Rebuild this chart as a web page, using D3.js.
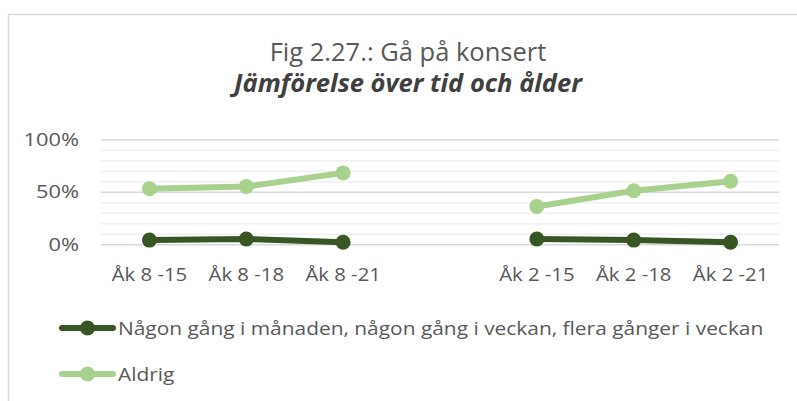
<!DOCTYPE html>
<html><head><meta charset="utf-8">
<script src="https://cdn.jsdelivr.net/npm/d3@7/dist/d3.min.js"></script>
<style>
body{margin:0;background:#fff}
svg{display:block}
text{font-family:"Open Sans",sans-serif}
</style>
</head><body>
<svg id="chart" width="797" height="401"></svg>
<script>
const categories = ["Åk 8 -15","Åk 8 -18","Åk 8 -21"," ","Åk 2 -15","Åk 2 -18","Åk 2 -21"];
const seriesNames = ["Någon gång i månaden, någon gång i veckan, flera gånger i veckan","Aldrig"];
const sometimesValues = [4,5,2,null,5,4,2];
const neverValues = [53,55,68,null,36,51,60];
const yTicks = [0,50,100];
const yMinorTicks = [10,20,30,40,60,70,80,90];
const titleText = "Fig 2.27.: Gå på konsert";
const subtitleText = "Jämförelse över tid och ålder";

const colors = ["#375623","#a9d18e"];
const series = [sometimesValues, neverValues];

const svg = d3.select("#chart");
const W = 797, H = 401;
const plotL = 101, plotR = 779, plotT = 139.3, plotB = 244.3;
const axisFont = 19;

// frame
svg.append("path").attr("d",`M8.5,${H} V14.5 H${W}`).attr("fill","none")
  .attr("stroke","#d9d9d9").attr("stroke-width",1.5);

// titles
svg.append("text").attr("x",408).attr("y",61).attr("text-anchor","middle")
  .attr("font-size",25.5).attr("fill","#595959")
  .text(titleText);
svg.append("text").attr("x",408).attr("y",92).attr("text-anchor","middle")
  .attr("font-size",25.5).attr("font-weight","bold").attr("font-style","italic").attr("fill","#404040")
  .text(subtitleText);

const x = d3.scaleBand().domain(categories).range([plotL,plotR]);
const y = d3.scaleLinear().domain([0,100]).range([plotB,plotT]);
const cx = d => x(d) + x.bandwidth()/2;

// minor gridlines
svg.append("g").attr("transform",`translate(${plotL},0)`)
  .call(d3.axisLeft(y).tickValues(yMinorTicks).tickSize(-(plotR-plotL)).tickFormat(""))
  .call(g=>g.select(".domain").remove())
  .call(g=>g.selectAll("line").attr("stroke","#f0f0f0").attr("stroke-width",1.5));
// major gridlines + labels
const ySx = 1.15;
svg.append("g").attr("transform",`translate(${plotL},0)`)
  .call(d3.axisLeft(y).tickValues(yTicks).tickSize(-(plotR-plotL)).tickFormat(d=>d+"%").tickPadding(22))
  .call(g=>g.select(".domain").remove())
  .call(g=>g.selectAll("line").attr("stroke","#d9d9d9").attr("stroke-width",1.5))
  .call(g=>g.selectAll("text").attr("font-size",axisFont).attr("fill","#595959").attr("font-family","Open Sans")
    .attr("x",-22/ySx).attr("transform",`scale(${ySx},1)`));

// x axis labels
const xSx = 1.07;
svg.append("g").attr("transform",`translate(0,${plotB})`)
  .call(d3.axisBottom(x).tickSize(0).tickPadding(23))
  .call(g=>g.select(".domain").remove())
  .call(g=>g.selectAll("text").attr("font-size",axisFont).attr("fill","#595959").attr("font-family","Open Sans")
    .attr("transform",`scale(${xSx},1)`));

// lines
const line = d3.line().defined(d=>d.v!=null).x(d=>cx(d.c)).y(d=>y(d.v));
series.forEach((vals,i)=>{
  const pts = categories.map((c,j)=>({c, v: vals[j]}));
  svg.append("path").datum(pts).attr("d",line).attr("fill","none")
    .attr("stroke",colors[i]).attr("stroke-width",6).attr("stroke-linejoin","round").attr("stroke-linecap","round");
  svg.append("g").selectAll("circle").data(pts.filter(d=>d.v!=null)).join("circle")
    .attr("cx",d=>cx(d.c)).attr("cy",d=>y(d.v)).attr("r",7.5).attr("fill",colors[i]);
});

// legend
const legY = [328, 374];
const legSx = 1.1;
seriesNames.forEach((name,i)=>{
  const g = svg.append("g");
  g.append("line").attr("x1",62).attr("x2",113).attr("y1",legY[i]).attr("y2",legY[i])
    .attr("stroke",colors[i]).attr("stroke-width",6).attr("stroke-linecap","round");
  g.append("circle").attr("cx",87.5).attr("cy",legY[i]).attr("r",7.5).attr("fill",colors[i]);
  g.append("text").attr("x",0).attr("y",0).attr("dy","0.35em")
    .attr("transform",`translate(118,${legY[i]}) scale(${legSx},1)`)
    .attr("font-size",axisFont).attr("fill","#595959").text(name);
});
</script>
</body></html>
